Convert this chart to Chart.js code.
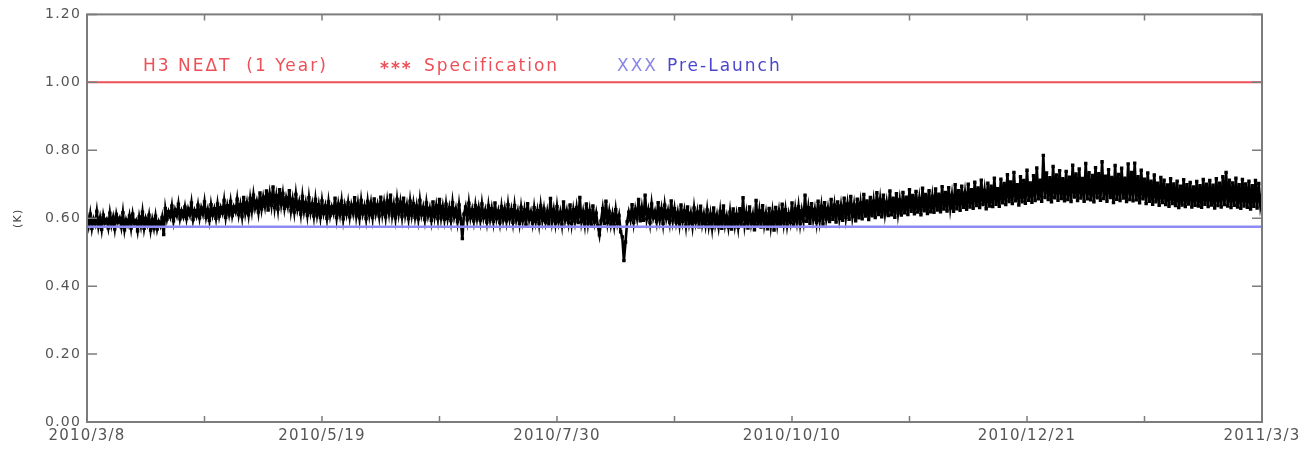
<!DOCTYPE html>
<html>
<head>
<meta charset="utf-8">
<script src="https://cdn.jsdelivr.net/npm/chart.js@4/dist/chart.umd.min.js"></script>
<style>
  html, body { margin: 0; padding: 0; background: #fff; }
  #wrap { width: 1313px; height: 449px; }
</style>
</head>
<body>
<div id="wrap"><canvas id="neChart"></canvas></div>
<script>
// date labels for the major x ticks (every 72 days from 2010/3/8)
const dateLabels = ['2010/3/8', '2010/5/19', '2010/7/30', '2010/10/10', '2010/12/21', '2011/3/3'];
const yTicks = [0, 0.2, 0.4, 0.6, 0.8, 1.0, 1.2];

// H3 NEdT, two samples per day (K)
const neDT = [
  0.605,0.578,0.612,0.570,0.598,0.583,0.620,0.575,0.601,0.567,0.609,0.586,0.596,0.572,0.615,0.580,0.603,0.569,0.611,0.588,
  0.600,0.574,0.616,0.566,0.595,0.581,0.607,0.571,0.612,0.584,0.593,0.563,0.604,0.578,0.618,0.570,0.599,0.582,0.609,0.565,
  0.596,0.571,0.606,0.568,0.590,0.577,0.602,0.552,0.628,0.597,0.619,0.604,0.636,0.592,0.624,0.608,0.641,0.598,0.621,0.605,
  0.633,0.599,0.627,0.610,0.645,0.596,0.622,0.607,0.638,0.601,0.630,0.612,0.648,0.603,0.625,0.594,0.640,0.609,0.628,0.600,
  0.642,0.606,0.631,0.615,0.652,0.603,0.637,0.612,0.649,0.608,0.633,0.619,0.656,0.611,0.640,0.605,0.661,0.616,0.645,0.610,
  0.658,0.622,0.668,0.630,0.650,0.618,0.674,0.628,0.662,0.635,0.680,0.624,0.671,0.638,0.692,0.631,0.666,0.627,0.684,0.640,
  0.673,0.629,0.660,0.636,0.681,0.622,0.655,0.618,0.670,0.626,0.648,0.612,0.664,0.620,0.646,0.609,0.660,0.617,0.642,0.606,
  0.655,0.610,0.640,0.603,0.651,0.614,0.636,0.600,0.648,0.608,0.633,0.615,0.659,0.602,0.641,0.611,0.650,0.598,0.637,0.612,
  0.646,0.604,0.638,0.615,0.660,0.607,0.643,0.601,0.652,0.613,0.635,0.599,0.649,0.610,0.644,0.603,0.657,0.614,0.639,0.606,
  0.662,0.612,0.645,0.604,0.651,0.616,0.668,0.608,0.640,0.601,0.655,0.613,0.647,0.605,0.659,0.610,0.638,0.599,0.650,0.609,
  0.643,0.603,0.636,0.598,0.652,0.610,0.632,0.596,0.645,0.607,0.629,0.594,0.648,0.605,0.637,0.599,0.655,0.602,0.634,0.597,
  0.641,0.600,0.630,0.593,0.646,0.604,0.627,0.590,0.639,0.598,0.540,0.612,0.633,0.595,0.644,0.601,0.625,0.592,0.637,0.599,
  0.630,0.594,0.642,0.601,0.623,0.589,0.636,0.597,0.628,0.591,0.645,0.599,0.621,0.587,0.634,0.596,0.627,0.592,0.640,0.598,
  0.625,0.588,0.637,0.595,0.620,0.585,0.632,0.593,0.624,0.580,0.643,0.596,0.618,0.586,0.631,0.591,0.622,0.584,0.636,0.594,
  0.627,0.589,0.619,0.583,0.658,0.592,0.624,0.586,0.634,0.590,0.617,0.582,0.648,0.595,0.621,0.588,0.639,0.585,0.625,0.591,
  0.630,0.587,0.661,0.590,0.619,0.583,0.642,0.586,0.622,0.580,0.636,0.589,0.615,0.578,0.551,0.592,0.628,0.584,0.650,0.588,
  0.620,0.582,0.612,0.578,0.625,0.585,0.608,0.560,0.545,0.475,0.530,0.590,0.618,0.595,0.640,0.588,0.626,0.600,0.655,0.592,
  0.631,0.594,0.668,0.598,0.624,0.587,0.642,0.601,0.620,0.590,0.646,0.596,0.627,0.585,0.638,0.599,0.622,0.589,0.651,0.594,
  0.628,0.588,0.617,0.582,0.639,0.591,0.621,0.579,0.633,0.586,0.614,0.577,0.630,0.589,0.618,0.575,0.635,0.584,0.612,0.580,
  0.624,0.578,0.612,0.572,0.630,0.583,0.609,0.575,0.620,0.570,0.636,0.581,0.606,0.574,0.618,0.568,0.627,0.579,0.611,0.573,
  0.628,0.576,0.660,0.581,0.615,0.571,0.633,0.584,0.610,0.566,0.652,0.579,0.621,0.574,0.637,0.582,0.613,0.569,0.629,0.577,
  0.618,0.565,0.632,0.583,0.620,0.576,0.641,0.586,0.625,0.579,0.613,0.588,0.645,0.581,0.627,0.590,0.634,0.584,0.622,0.592,
  0.668,0.591,0.631,0.585,0.643,0.596,0.626,0.588,0.650,0.594,0.635,0.583,0.646,0.598,0.629,0.590,0.655,0.597,0.638,0.589,
  0.648,0.600,0.637,0.594,0.659,0.603,0.642,0.597,0.664,0.605,0.639,0.592,0.656,0.601,0.645,0.598,0.670,0.606,0.651,0.596,
  0.661,0.607,0.650,0.602,0.675,0.611,0.655,0.604,0.668,0.613,0.647,0.608,0.680,0.610,0.659,0.603,0.672,0.615,0.654,0.609,
  0.676,0.616,0.662,0.611,0.684,0.620,0.667,0.613,0.679,0.618,0.658,0.610,0.688,0.622,0.670,0.614,0.681,0.619,0.664,0.617,
  0.686,0.624,0.671,0.619,0.693,0.627,0.676,0.621,0.690,0.630,0.668,0.620,0.699,0.628,0.681,0.623,0.694,0.632,0.674,0.626,
  0.700,0.633,0.684,0.629,0.706,0.637,0.689,0.631,0.712,0.640,0.682,0.628,0.703,0.636,0.694,0.634,0.718,0.641,0.687,0.635,
  0.715,0.645,0.702,0.640,0.728,0.649,0.707,0.643,0.735,0.651,0.699,0.639,0.722,0.648,0.711,0.644,0.741,0.653,0.704,0.647,
  0.725,0.652,0.748,0.657,0.712,0.650,0.785,0.661,0.733,0.655,0.719,0.648,0.752,0.660,0.727,0.653,0.740,0.658,0.716,0.651,
  0.738,0.655,0.721,0.649,0.756,0.662,0.730,0.652,0.745,0.659,0.717,0.650,0.761,0.657,0.734,0.654,0.726,0.648,0.749,0.660,
  0.731,0.653,0.766,0.658,0.724,0.650,0.743,0.661,0.720,0.646,0.755,0.656,0.729,0.652,0.747,0.659,0.718,0.649,0.760,0.655,
  0.735,0.651,0.762,0.654,0.722,0.645,0.741,0.657,0.715,0.643,0.733,0.650,0.709,0.641,0.727,0.648,0.703,0.638,0.720,0.646,
  0.712,0.640,0.698,0.635,0.716,0.643,0.701,0.637,0.709,0.631,0.694,0.639,0.713,0.634,0.699,0.642,0.705,0.633,0.692,0.638,
  0.708,0.636,0.696,0.632,0.714,0.641,0.700,0.634,0.711,0.639,0.697,0.630,0.716,0.637,0.703,0.633,0.722,0.640,0.735,0.636,
  0.712,0.631,0.704,0.638,0.718,0.633,0.699,0.629,0.714,0.636,0.701,0.632,0.709,0.627,0.696,0.635,0.711,0.630,0.702,0.637,
  0.668
];

const specValue = 1.0;      // specification
const preLaunch = 0.575;    // pre-launch level
const totalDays = 360;

const RED = '#ec5058';
const BLUE_LINE = '#8e8cf2';

// plot frame + inward ticks on all four sides (IDL style)
const framePlugin = {
  id: 'frame',
  beforeDraw(chart) {
    chart.ctx.letterSpacing = '1.2px';
  },
  afterDraw(chart) {
    const { ctx, chartArea: a, scales } = chart;
    ctx.save();
    ctx.strokeStyle = '#7c7c7c';
    ctx.lineWidth = 2;
    ctx.strokeRect(a.left, a.top, a.right - a.left, a.bottom - a.top);
    ctx.lineWidth = 1.5;
    ctx.beginPath();
    scales.y.ticks.forEach((t, i) => {
      const py = scales.y.getPixelForTick(i);
      ctx.moveTo(a.left, py); ctx.lineTo(a.left + 10, py);
      ctx.moveTo(a.right, py); ctx.lineTo(a.right - 10, py);
    });
    scales.x.ticks.forEach((t, i) => {
      const px = scales.x.getPixelForTick(i);
      ctx.moveTo(px, a.bottom); ctx.lineTo(px, a.bottom - 6);
      ctx.moveTo(px, a.top); ctx.lineTo(px, a.top + 6);
    });
    ctx.stroke();

    // legend text written inside the plot
    ctx.font = '17px "DejaVu Sans"';
    ctx.letterSpacing = '2px';
    ctx.textBaseline = 'middle';
    ctx.textAlign = 'left';
    ctx.fillStyle = RED;
    ctx.fillText('H3 NEΔT  (1 Year)', 143, 67);
    ctx.font = 'bold 17px "DejaVu Sans"';
    ctx.fillText('***', 380, 70);
    ctx.font = '17px "DejaVu Sans"';
    ctx.fillText('Specification', 424, 67);
    ctx.fillStyle = '#8a88e6';
    ctx.fillText('XXX', 617, 67);
    ctx.fillStyle = '#4b46cc';
    ctx.fillText('Pre-Launch', 667, 67);
    ctx.restore();
  }
};

const ctx = document.getElementById('neChart').getContext('2d');
new Chart(ctx, {
  type: 'line',
  data: {
    datasets: [
      {
        label: 'Specification',
        data: [{ x: 0, y: specValue }, { x: totalDays, y: specValue }],
        borderColor: RED,
        borderWidth: 2,
        pointRadius: 0
      },
      {
        label: 'Pre-Launch',
        data: [{ x: 0, y: preLaunch }, { x: totalDays, y: preLaunch }],
        borderColor: BLUE_LINE,
        borderWidth: 2.5,
        pointRadius: 0
      },
      {
        label: 'H3 NEdT',
        data: neDT.map((v, i) => ({ x: i / 2, y: v })),
        borderColor: '#000',
        backgroundColor: '#000',
        borderWidth: 2.6,
        pointRadius: 2.4,
        pointStyle: 'rect',
        pointBorderWidth: 0
      }
    ]
  },
  plugins: [framePlugin],
  options: {
    responsive: true,
    maintainAspectRatio: false,
    animation: false,
    layout: { padding: { top: 14, right: 51, left: 0, bottom: 0 } },
    plugins: {
      legend: { display: false },
      tooltip: { enabled: false }
    },
    scales: {
      x: {
        type: 'linear',
        min: 0,
        max: totalDays,
        afterBuildTicks: s => {
          const t = [];
          for (let d = 0; d <= totalDays; d += 36) t.push({ value: d });
          s.ticks = t;
        },
        afterFit: s => { s.height = 27; },
        grid: { display: false, drawTicks: false },
        border: { display: false },
        ticks: {
          autoSkip: false,
          maxRotation: 0,
          padding: 5,
          color: '#555',
          font: { family: 'DejaVu Sans', size: 15 },
          callback: v => (v % 72 === 0 ? dateLabels[v / 72] : '')
        }
      },
      y: {
        min: 0,
        max: 1.2,
        afterBuildTicks: s => { s.ticks = yTicks.map(v => ({ value: v })); },
        afterFit: s => { s.width = 87; },
        grid: { display: false, drawTicks: false },
        border: { display: false },
        title: {
          display: true,
          text: '(K)',
          color: '#444',
          padding: { top: 12, bottom: 0 },
          font: { family: 'DejaVu Sans', size: 11 }
        },
        ticks: {
          padding: 6,
          color: '#555',
          font: { family: 'DejaVu Sans', size: 14 },
          callback: v => v.toFixed(2)
        }
      }
    }
  }
});
</script>
</body>
</html>
